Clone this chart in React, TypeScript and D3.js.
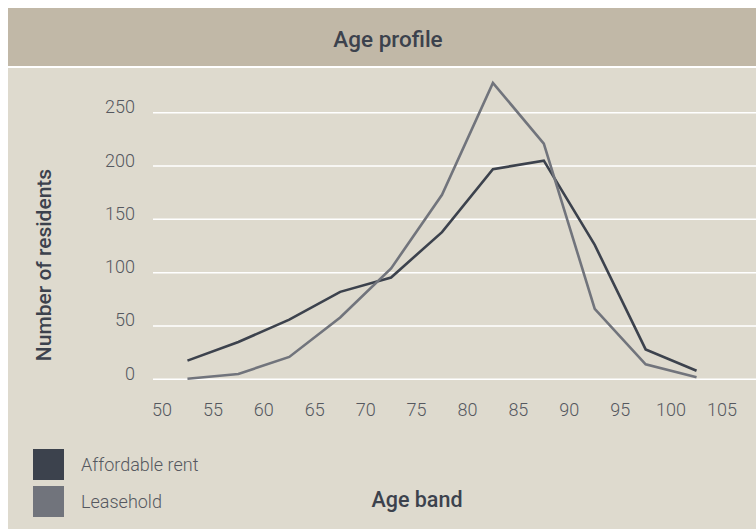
import React from "react";
import * as d3 from "d3";

const ageBands: number[] = [52.5, 57.5, 62.5, 67.5, 72.5, 77.5, 82.5, 87.5, 92.5, 97.5, 102.5];
const affordableRent: number[] = [17.5, 35, 56, 82, 95.5, 138, 197, 205, 126, 28, 8];
const leasehold: number[] = [0.5, 5, 21, 58, 104, 173, 278, 221, 66, 14, 2];
const xTicks: number[] = [50, 55, 60, 65, 70, 75, 80, 85, 90, 95, 100, 105];
const yTicks: number[] = [0, 50, 100, 150, 200, 250];
const seriesNames: string[] = ["Affordable rent", "Leasehold"];
const seriesColors: string[] = ["#3c424d", "#71747c"];

export default function App() {
  const W = 756, H = 529;
  const x = d3.scaleLinear().domain([50, 105]).range([162, 722]);
  const y = d3.scaleLinear().domain([0, 250]).range([379.3, 112.7]);
  const line = d3
    .line<[number, number]>()
    .x((d) => x(d[0]))
    .y((d) => y(d[1]));
  const series = [affordableRent, leasehold];
  const font = "Roboto, 'Liberation Sans', Arial, sans-serif";

  return (
    <svg
      width={W}
      height={H}
      style={{ position: "absolute", left: 0, top: 0, background: "#fff" }}
    >
      <rect x={8} y={8} width={W - 8} height={58} fill="#c1b8a7" />
      <rect x={8} y={68} width={W - 8} height={H - 68} fill="#dedace" />
      <text
        x={388}
        y={47}
        textAnchor="middle"
        fontFamily={font}
        fontWeight={500}
        fontSize={22.5}
        fill="#3c424d"
      >
        Age profile
      </text>

      {yTicks.map((t) => (
        <g key={t}>
          <line x1={153} x2={W} y1={y(t)} y2={y(t)} stroke="#ffffff" strokeWidth={1.5} />
          <text
            x={135}
            y={y(t) + 0.5}
            textAnchor="end"
            fontFamily={font}
            fontWeight={300}
            fontSize={18}
            fill="#55585f"
          >
            {t}
          </text>
        </g>
      ))}

      {xTicks.map((t) => (
        <text
          key={t}
          x={x(t)}
          y={415.5}
          textAnchor="middle"
          fontFamily={font}
          fontWeight={300}
          fontSize={18}
          fill="#55585f"
        >
          {t}
        </text>
      ))}

      {series.map((s, i) => (
        <path
          key={i}
          d={line(ageBands.map((a, j) => [a, s[j]] as [number, number])) || ""}
          fill="none"
          stroke={seriesColors[i]}
          strokeWidth={2.6}
          strokeLinejoin="miter"
        />
      ))}

      <text
        transform="translate(51,265) rotate(-90)"
        textAnchor="middle"
        fontFamily={font}
        fontWeight={500}
        fontSize={21}
        fill="#3c424d"
      >
        Number of residents
      </text>

      <text
        x={417}
        y={506.5}
        textAnchor="middle"
        fontFamily={font}
        fontWeight={500}
        fontSize={21.5}
        fill="#3c424d"
      >
        Age band
      </text>

      {seriesNames.map((n, i) => (
        <g key={n}>
          <rect x={33} y={449 + i * 37} width={31} height={31} fill={seriesColors[i]} />
          <text
            x={81}
            y={464.5 + i * 37}
            dominantBaseline="central"
            fontFamily={font}
            fontWeight={300}
            fontSize={18}
            fill="#55585f"
          >
            {n}
          </text>
        </g>
      ))}
    </svg>
  );
}
